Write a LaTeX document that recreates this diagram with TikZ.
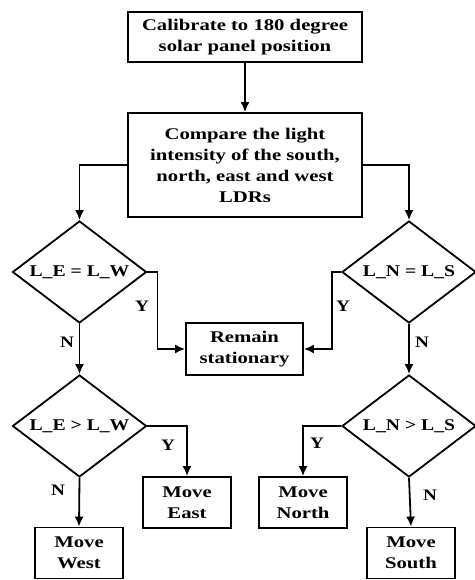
\documentclass[tikz,border=0pt]{standalone}
\usepackage{fontspec}
\setmainfont{Liberation Serif}[FakeStretch=1.2]
\newfontfamily\widefont{Liberation Serif}[FakeStretch=1.27]
\usetikzlibrary{shapes.geometric,arrows.meta}
\begin{document}
\begin{tikzpicture}[x=1pt,y=-1pt,
  every node/.style={font=\bfseries\fontsize{16}{21}\selectfont},
  box/.style={draw,line width=1.8pt,inner sep=0pt,align=center,font=\widefont\bfseries\fontsize{16.3}{21}\selectfont},
  dia/.style={draw,diamond,line width=1.8pt,inner sep=0pt,minimum width=134pt,minimum height=102pt},
  dlab/.style={font=\bfseries\fontsize{16.4}{18}\selectfont},
  lbl/.style={inner sep=0pt},
  arr/.style={line width=1.8pt,-{Latex[length=10pt,width=9pt]}}]
\useasboundingbox (0,0) rectangle (474,580);
\node[box,minimum width=234pt,minimum height=50pt] (cal) at (245,37) {Calibrate to 180 degree\\solar panel position};
\node[box,minimum width=234pt,minimum height=104pt] (cmp) at (245,165) {Compare the light\\intensity of the south,\\north, east and west\\LDRs};
\node[dia,label={[dlab]center:L\_E = L\_W}] (d1) at (79.5,272) {};
\node[dia,label={[dlab]center:L\_N = L\_S}] (d2) at (409,272) {};
\node[box,minimum width=117pt,minimum height=52pt] (rem) at (244.5,349) {Remain\\stationary};
\node[dia,label={[dlab]center:L\_E > L\_W}] (d3) at (79.5,426) {};
\node[dia,label={[dlab]center:L\_N > L\_S}] (d4) at (409,426) {};
\node[box,minimum width=88pt,minimum height=51pt] (east) at (187,502.5) {Move\\East};
\node[box,minimum width=88pt,minimum height=51pt] (west) at (79,553) {Move\\West};
\node[box,minimum width=88pt,minimum height=51pt] (north) at (303,502.5) {Move\\North};
\node[box,minimum width=88pt,minimum height=51pt] (south) at (411,553) {Move\\South};
\draw[arr] (cal) -- (cmp);
\draw[arr] (cmp.west) -| (d1.north);
\draw[arr] (cmp.east) -| (d2.north);
\draw[arr] (d1.east) -- ++(10,0) |- (rem.west);
\draw[arr] (d2.west) -- ++(-9,0) |- (rem.east);
\draw[arr] (d1.south) -- (d3.north);
\draw[arr] (d2.south) -- (d4.north);
\draw[arr] (d3.east) -| (east.north);
\draw[arr] (d3.south) -- (west.north);
\draw[arr] (d4.west) -| (north.north);
\draw[arr] (d4.south) -- (south.north);
\node[lbl] (y1) at (142,306) {Y};
\node[lbl] (y2) at (343,306) {Y};
\node[lbl] (n1) at (67,342) {N};
\node[lbl] (n2) at (422,342) {N};
\node[lbl] (y3) at (168,445) {Y};
\node[lbl] (y4) at (317,443) {Y};
\node[lbl] (n3) at (58,490) {N};
\node[lbl] (n4) at (430,495) {N};
\end{tikzpicture}
\end{document}
